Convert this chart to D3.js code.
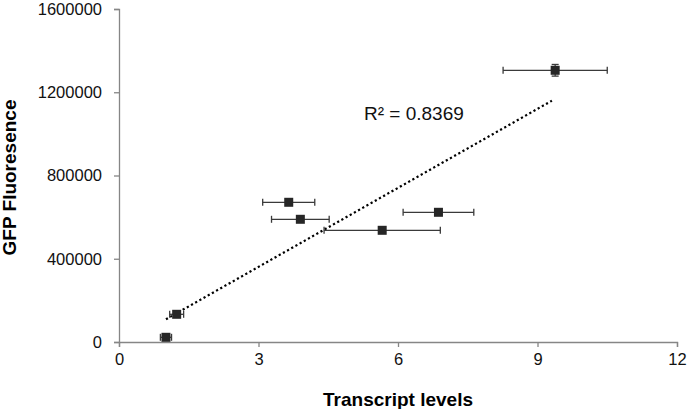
<!DOCTYPE html>
<html>
<head>
<meta charset="utf-8">
<script src="https://cdn.jsdelivr.net/npm/d3@7"></script>
<style>
body { margin: 0; background: #fff; }
text { font-family: "Liberation Sans", Arial, sans-serif; }
</style>
</head>
<body>
<svg id="chart" width="688" height="409"></svg>
<script>
// data
var transcript = [1.01, 1.24, 3.65, 3.90, 5.66, 6.87, 9.38];
var transcriptErr = [0.12, 0.15, 0.56, 0.62, 1.25, 0.76, 1.12];
var fluorescence = [22600, 133100, 671300, 589600, 536700, 623200, 1305500];
var fluorescenceErr = [0, 0, 0, 0, 0, 0, 28000];
var xTicks = [0, 3, 6, 9, 12];
var yTicks = [0, 400000, 800000, 1200000, 1600000];
var r2Label = "R\u00b2 = 0.8369";

var svg = d3.select("#chart");

var x = d3.scaleLinear().domain([0, 12]).range([119, 677]);
var y = d3.scaleLinear().domain([0, 1600000]).range([342, 9]);

var axisColor = "#868686";

// axes
var xAxis = svg.append("g")
    .attr("transform", "translate(0," + y(0) + ")")
    .call(d3.axisBottom(x).tickValues(xTicks).tickSize(5).tickFormat(d3.format("d")));
var yAxis = svg.append("g")
    .attr("transform", "translate(" + x(0) + ",0)")
    .call(d3.axisLeft(y).tickValues(yTicks).tickSize(5).tickPadding(12).tickFormat(d3.format("d")));

[xAxis, yAxis].forEach(function(a) {
  a.select(".domain").attr("stroke", axisColor).attr("stroke-width", 1.3);
  a.selectAll(".tick line").attr("stroke", axisColor).attr("stroke-width", 1.3);
  a.selectAll(".tick text").attr("fill", "#111").style("font-size", "16.5px");
});
xAxis.selectAll(".tick text").attr("y", 23).attr("dy", 0);

// axis titles
svg.append("text")
  .attr("x", 398).attr("y", 406)
  .attr("text-anchor", "middle")
  .style("font-size", "19px").style("font-weight", "bold")
  .text("Transcript levels");

svg.append("text")
  .attr("transform", "translate(15.5,177.5) rotate(-90)")
  .attr("text-anchor", "middle")
  .style("font-size", "19px").style("font-weight", "bold")
  .text("GFP Fluoresence");

// linear trend line
var n = transcript.length;
var mx = d3.mean(transcript), my = d3.mean(fluorescence);
var sxy = 0, sxx = 0;
for (var i = 0; i < n; i++) {
  sxy += (transcript[i] - mx) * (fluorescence[i] - my);
  sxx += (transcript[i] - mx) * (transcript[i] - mx);
}
var slope = sxy / sxx, icpt = my - slope * mx;
var x0 = d3.min(transcript), x1 = 9.31;

svg.append("line")
  .attr("x1", x(x0)).attr("y1", y(icpt + slope * x0))
  .attr("x2", x(x1)).attr("y2", y(icpt + slope * x1))
  .attr("stroke", "#000")
  .attr("stroke-width", 2.2)
  .attr("stroke-dasharray", "2.2,2.6");

svg.append("text")
  .attr("x", 364).attr("y", 120)
  .style("font-size", "19px").attr("fill", "#111")
  .text(r2Label);

// error bars
var errColor = "#3a3a3a";
var pts = svg.append("g");
for (var i = 0; i < n; i++) {
  var cx = x(transcript[i]), cy = y(fluorescence[i]);
  var xl = x(transcript[i] - transcriptErr[i]), xr = x(transcript[i] + transcriptErr[i]);
  pts.append("line").attr("x1", xl).attr("x2", xr).attr("y1", cy).attr("y2", cy)
    .attr("stroke", errColor).attr("stroke-width", 1.3);
  [xl, xr].forEach(function(xx) {
    pts.append("line").attr("x1", xx).attr("x2", xx).attr("y1", cy - 3.5).attr("y2", cy + 3.5)
      .attr("stroke", errColor).attr("stroke-width", 1.3);
  });
  if (fluorescenceErr[i] > 0) {
    var yt = y(fluorescence[i] + fluorescenceErr[i]), yb = y(fluorescence[i] - fluorescenceErr[i]);
    pts.append("line").attr("x1", cx).attr("x2", cx).attr("y1", yt).attr("y2", yb)
      .attr("stroke", errColor).attr("stroke-width", 1.3);
    [yt, yb].forEach(function(yy) {
      pts.append("line").attr("x1", cx - 3.5).attr("x2", cx + 3.5).attr("y1", yy).attr("y2", yy)
        .attr("stroke", errColor).attr("stroke-width", 1.3);
    });
  }
}

// markers
pts.selectAll("rect.pt")
  .data(transcript)
  .enter()
  .append("rect")
  .attr("class", "pt")
  .attr("x", function(d) { return x(d) - 4.5; })
  .attr("y", function(d, i) { return y(fluorescence[i]) - 4.5; })
  .attr("width", 9)
  .attr("height", 9)
  .attr("fill", "#262626");
</script>
</body>
</html>
